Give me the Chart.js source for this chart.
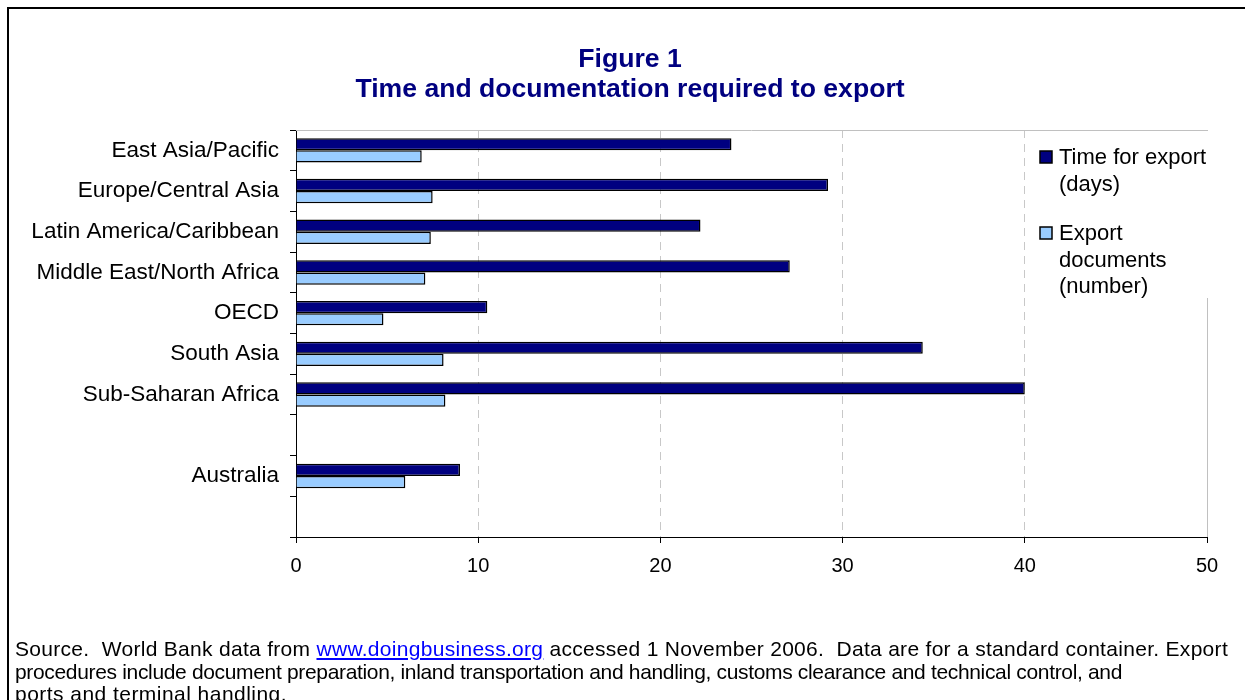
<!DOCTYPE html>
<html>
<head>
<meta charset="utf-8">
<script src="https://cdn.jsdelivr.net/npm/chart.js@4/dist/chart.umd.min.js"></script>
<style>
  body { margin: 0; background: #fff; width: 1245px; height: 700px; overflow: hidden; position: relative; font-family: 'Liberation Sans', Arial, sans-serif; }
  #frame { position: absolute; left: 7px; top: 7px; width: 1300px; height: 760px; border-left: 2px solid #000; border-top: 2px solid #000; }
  #chartBox { position: absolute; left: 0; top: 0; }
  #note { position: absolute; left: 15px; top: 638px; font-size: 21px; line-height: 22.5px; color: #000; white-space: nowrap; }
  #note span { display: inline-block; }
  #note a { color: #0000ff; text-decoration: underline; }
</style>
</head>
<body>
<div id="frame"></div>
<div id="chartBox"><canvas id="exportChart" width="1245" height="700"></canvas></div>
<div id="note"><span data-w="1213">Source.&nbsp; World Bank data from <a href="#">www.doingbusiness.org</a> accessed 1 November 2006.&nbsp; Data are for a standard container. Export</span><br><span data-w="1107">procedures include document preparation, inland transportation and handling, customs clearance and technical control, and</span><br><span data-w="272">ports and terminal handling.</span></div>
<script>
const regions = ['East Asia/Pacific', 'Europe/Central Asia', 'Latin America/Caribbean', 'Middle East/North Africa',
  'OECD', 'South Asia', 'Sub-Saharan Africa', '', 'Australia', ''];
const timeForExport = [23.9, 29.2, 22.2, 27.1, 10.5, 34.4, 40.0, null, 9.0, null];
const exportDocuments = [6.9, 7.5, 7.4, 7.1, 4.8, 8.1, 8.2, null, 6.0, null];
const xTicks = [0, 10, 20, 30, 40, 50];
const legendLines = [['Time for export', '(days)'], ['Export', 'documents', '(number)']];
const titleLines = ['Figure 1', 'Time and documentation required to export'];

const font = "'Liberation Sans', Arial, sans-serif";

// the source note lines in the original are set a bit unevenly, so squeeze each line to its width
document.querySelectorAll('#note span').forEach(s => {
  const want = +s.dataset.w;
  const have = s.getBoundingClientRect().width;
  s.style.letterSpacing = ((want - have) / s.textContent.length) + 'px';
});

// title, grey frame on top of plot, and the legend box that sits inside the plot
const plotExtras = {
  id: 'plotExtras',
  beforeDatasetsDraw(chart) {
    const { ctx, chartArea } = chart;
    ctx.save();
    ctx.strokeStyle = '#c0c0c0';
    ctx.lineWidth = 1;
    ctx.beginPath();
    ctx.moveTo(chartArea.left, chartArea.top + 0.5);
    ctx.lineTo(chartArea.right, chartArea.top + 0.5);
    ctx.stroke();
    ctx.restore();
  },
  afterDraw(chart) {
    const { ctx, chartArea } = chart;
    const colors = chart.data.datasets.map(d => d.backgroundColor);
    ctx.save();
    ctx.fillStyle = '#000080';
    ctx.font = 'bold 26.6px ' + font;
    ctx.textAlign = 'center';
    ctx.textBaseline = 'middle';
    titleLines.forEach((t, i) => ctx.fillText(t, 630, 60 + i * 30));

    ctx.textAlign = 'left';
    ctx.fillStyle = '#fff';
    ctx.fillRect(1028, chartArea.top + 1, chartArea.right - 1028 + 1, 167);
    ctx.font = '22px ' + font;
    ctx.textBaseline = 'alphabetic';
    let y = 164;
    legendLines.forEach((lines, i) => {
      ctx.fillStyle = colors[i];
      ctx.fillRect(1040, y - 13, 12, 12);
      ctx.strokeStyle = '#000';
      ctx.lineWidth = 1.5;
      ctx.strokeRect(1040, y - 13, 12, 12);
      ctx.fillStyle = '#000';
      lines.forEach((t, j) => ctx.fillText(t, 1059, y + j * 26.5));
      y += lines.length * 26.5 + 23;
    });
    ctx.restore();
  }
};

new Chart(document.getElementById('exportChart'), {
  type: 'bar',
  data: {
    labels: regions,
    datasets: [
      { label: 'Time for export (days)', data: timeForExport, backgroundColor: '#000080', borderColor: '#000', borderWidth: 1.5 },
      { label: 'Export documents (number)', data: exportDocuments, backgroundColor: '#99ccff', borderColor: '#000', borderWidth: 1.5 }
    ]
  },
  options: {
    indexAxis: 'y',
    responsive: false,
    animation: false,
    events: [],
    categoryPercentage: 0.6,
    barPercentage: 1.0,
    layout: { padding: { left: 0, right: 38, top: 130, bottom: 103 } },
    plugins: {
      legend: { display: false },
      tooltip: { enabled: false },
      title: { display: false }
    },
    scales: {
      x: {
        min: 0,
        max: 50,
        afterFit(scale) { scale.height = 60; },
        afterBuildTicks(scale) { scale.ticks = xTicks.map(v => ({ value: v })); },
        ticks: { color: '#000', font: { family: font, size: 20 }, padding: 11, maxRotation: 0 },
        grid: {
          color: c => c.tick && c.tick.value === 0 ? 'rgba(0,0,0,0)' : (c.tick && c.tick.value === 50 ? '#c0c0c0' : '#c8c8c8'),
          lineWidth: 1,
          tickColor: '#000',
          tickLength: 6,
          tickBorderDash: []
        },
        border: {
          color: '#000',
          width: 1,
          dash: c => (c.tick && c.tick.value === 50) ? [] : [8, 6]
        }
      },
      y: {
        afterFit(scale) { scale.width = 296; },
        ticks: { color: '#000', font: { family: font, size: 22.5 }, padding: 11, autoSkip: false },
        grid: { drawOnChartArea: false, drawTicks: true, tickLength: 6, tickColor: '#000', offset: true },
        border: { color: '#000', width: 1 }
      }
    }
  },
  plugins: [plotExtras]
});
</script>
</body>
</html>
